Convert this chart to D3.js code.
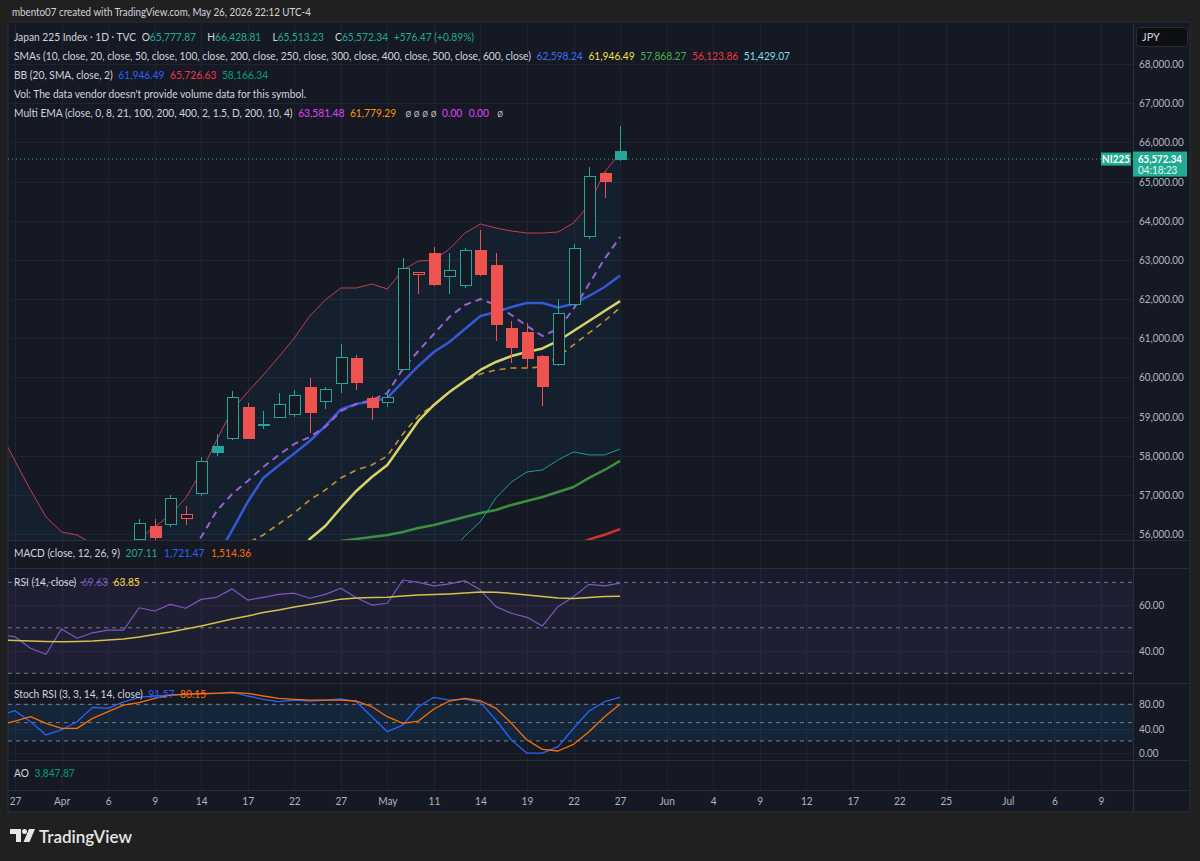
<!DOCTYPE html>
<html>
<head>
<meta charset="utf-8">
<script src="https://cdn.jsdelivr.net/npm/d3@7"></script>
<style>
body{margin:0;background:#202020;}
svg text{font-family:Lato,"Liberation Sans",sans-serif;}
</style>
</head>
<body>
<svg id="chart" width="1200" height="861"></svg>
<script>
// trading days shown (Japanese holidays skipped), first one sits just left of the frame
var days = ["Mar 26","Mar 27","Mar 30","Mar 31","Apr 1","Apr 2","Apr 3","Apr 6","Apr 7","Apr 8","Apr 9","Apr 10",
  "Apr 13","Apr 14","Apr 15","Apr 16","Apr 17","Apr 20","Apr 21","Apr 22","Apr 23","Apr 24","Apr 27","Apr 28",
  "Apr 30","May 1","May 7","May 8","May 11","May 12","May 13","May 14","May 15","May 18","May 19","May 20",
  "May 21","May 22","May 25","May 26","May 27"];

var _ = null;
var open = [_,_,_,_,_,_,_,_,_, 55850,56180,56231,56384,57022,58222,58426,59218,58770,58980,59047,59729,59371,59830,
  60487,59448,59345,60206,62631,63167,62570,62340,63240,62843,61252,61150,60527,60316,61865,63591,65192,65777.87];
var high = [_,_,_,_,_,_,_,_,_, 56380,56376,56997,56723,57959,58554,59652,59353,59149,59593,59677,59991,59762,60852,
  60571,59524,59660,63040,62700,63336,63183,63311,63762,63183,61447,61381,60560,61993,63405,65363,65250,66428.81];
var low = [_,_,_,_,_,_,_,_,_, 55700,55650,56180,56231,56971,57992,58401,58430,58674,58960,58980,58587,59200,59593,
  59677,58911,59251,60180,62128,62332,62128,62289,62600,60936,60359,60231,59268,60290,61804,63525,64571,65513.23];
var close = [_,_,_,_,_,_,_,_,_, 56280,55900,56895,56486,57839,58077,59481,58434,58790,59312,59542,59098,59695,60512,
  59864,59236,59481,62784,62682,62358,62715,63244,62613,61355,60767,60487,59762,61635,63295,65123,64996,65572.34];

var sma10 = [_,_,_,_,_,_,_,_,_,_,_,_,_,_, 55400,56100,56818,57431,57750,58056,58375,58758,59180,59320,59384,59473,
  59881,60290,60647,60902,61235,61567,61669,61796,61898,61898,61783,61873,62077,62307,62598.24];
var sma20 = [_,_,_,_,_,_,_,_,_,_,_,_,_,_,_,_,_,_,_, 55400,55873,56205,56665,57099,57456,57763,58324,58886,59294,59626,
  59907,60188,60392,60545,60647,60737,60928,61184,61439,61694,61946.49];
var sma50 = [_,_,_,_,_,_,_,_,_,_,_,_,_,_,_,_,_,_,_,_,_, 55750,55822,55873,55924,55975,56052,56154,56231,56333,56435,
  56537,56614,56742,56844,56946,57073,57201,57431,57635,57868.27];
var sma100 = [_,_,_,_,_,_,_,_,_,_,_,_,_,_,_,_,_,_,_,_,_,_,_,_,_,_,_,_,_,_,_,_,_,_,_,_,_, 55700,55860,55982,56123.86];
var bbUpper = [58630,57865,57124,56435,56052,55975,55750,55600,55650,55873,56180,56486,56920,57584,58401,59167,59626,
  60060,60520,61005,61566,61975,62281,62281,62383,62256,62741,62971,62996,63277,63685,63915,63813,63736,63685,
  63685,63711,63941,64400,65243,65726.63];
var bbLower = [_,_,_,_,_,_,_,_,_,_,_,_,_,_,_,_,_,_,_,_,_,_,_,_,_,_,_,_,_, 55500,55950,56315,56920,57328,57584,57635,
  57890,58095,58018,58018,58166.34];
var emaFast = [_,_,_,_,_,_,_,_,_,_,_,_, 55400,55924,56588,57022,57354,57712,58018,58299,58477,58733,59141,59320,59422,
  59601,60213,60673,61107,61541,61847,62000,61847,61592,61311,61056,61235,61745,62383,63022,63581.48];
var emaSlow = [_,_,_,_,_,_,_,_,_,_,_,_,_,_,_, 55500,55771,55975,56256,56537,56869,57124,57431,57635,57763,57992,58554,
  59014,59294,59626,59907,60086,60188,60239,60239,60265,60520,60826,61133,61439,61779.29];

var rsi = [46.8,46.1,41.0,38.4,49.5,45.4,47.8,49.0,49.0,58.8,57.4,60.3,58.6,62.5,63.4,67.1,62.2,63.4,64.7,65.2,63.0,
  64.7,67.4,63.2,60.0,60.8,71.0,70.0,68.4,69.3,70.7,66.6,59.3,56.4,54.6,50.8,59.3,63.7,69.1,68.4,69.63];
var rsiMa = [44.6,44.4,44.2,44.0,43.9,44.0,44.2,44.6,45.1,46.0,47.1,48.2,49.5,50.8,52.3,53.9,55.2,56.7,57.8,59.1,60.2,
  61.3,62.6,63.1,63.3,63.4,64.0,64.4,64.6,64.9,65.3,65.7,65.6,65.1,64.4,63.8,63.1,62.9,63.3,63.8,63.85];
var stochK = [62,69.5,51.5,29.8,38,51.5,75,73.4,84,91.4,93.6,95.2,96.4,98,98,100,93.6,88.2,84.3,87,85.4,87,88.7,84.3,
  59.7,35.2,46.1,76.1,91.5,87,88.7,83.3,54.3,21.6,0,0,10.6,40.7,69,84.3,91.57];
var stochD = [46,52.6,59.7,48.9,40.7,40.7,57,67.9,78.8,82.6,89.8,95.2,96.8,97.3,98,99,98,93.6,89.8,88.2,87,87,87,85.4,
  76.1,59.7,48.9,52.6,72.3,85.4,89.8,85.9,73.5,48.9,21.6,6.3,3.6,14.5,35.2,59.7,80.15];

var priceTicks = [56000,57000,58000,59000,60000,61000,62000,63000,64000,65000,66000,67000,68000];
var rsiTicks = [40,60];
var stochTicks = [0,40,80];
// x-axis labels, placed by trading-day number counted from Mar 27
var tickBars = [0,3,6,9,12,15,18,21,24,27,30,33,36,39,42,45,48,51,54,57,60,64,67,70];
var tickLabels = ["27","Apr","6","9","14","17","22","27","May","11","14","19","22","27","Jun","4","9","12","17","22","25","Jul","6","9"];

var W = 1200, H = 861;
var left = 8, plotRight = 1133, frameRight = 1190;
var top0 = 22, mainBottom = 540, macdBottom = 568, rsiBottom = 683, stochBottom = 760, aoBottom = 790, axisBottom = 812;
var bg = "#151924", gridColor = "#1f2431", sepColor = "#2a2e39", textColor = "#d1d4dc", axisText = "#b2b5be";
var upColor = "#26a69a", downColor = "#ef5350";
var squeeze = 0.93; // TradingView's UI font runs narrower than Lato

var svg = d3.select("#chart");
var x = d3.scaleLinear().domain([0, 70]).range([15, 1101]);
var y = d3.scaleLinear().domain([56000, 68000]).range([534, 64]);
var yRsi = d3.scaleLinear().domain([30, 70]).range([673.3, 582.3]);
var yStoch = d3.scaleLinear().domain([0, 100]).range([753.2, 692.1]);
var bx = function(d, k){ return x(k - 1); };

svg.append("rect").attr("width", W).attr("height", H).attr("fill", "#202020");
svg.append("rect").attr("x", left).attr("y", top0).attr("width", frameRight - left).attr("height", axisBottom - top0)
  .attr("fill", bg).attr("stroke", sepColor);

svg.append("text").attr("transform", "translate(12,16) scale(0.89,1)").attr("font-size", "11px").attr("fill", textColor)
  .text("mbento07 created with TradingView.com, May 26, 2026 22:12 UTC-4");

// clip areas for each pane
var defs = svg.append("defs");
function clip(id, y0, y1){
  defs.append("clipPath").attr("id", id).append("rect")
    .attr("x", left).attr("y", y0).attr("width", plotRight - left).attr("height", y1 - y0);
  return "url(#" + id + ")";
}
var mainClip = clip("cMain", top0, mainBottom);
var rsiClip = clip("cRsi", macdBottom, rsiBottom);
var stochClip = clip("cStoch", rsiBottom, stochBottom);

// grid
var grid = svg.append("g").attr("stroke", gridColor).attr("stroke-width", 1).attr("shape-rendering", "crispEdges");
grid.selectAll(".vg").data(tickBars.filter(function(b){ return x(b) < plotRight; })).enter().append("line")
  .attr("x1", function(d){ return Math.round(x(d)) + 0.5; }).attr("x2", function(d){ return Math.round(x(d)) + 0.5; })
  .attr("y1", top0).attr("y2", aoBottom);
grid.selectAll(".hg").data(priceTicks).enter().append("line")
  .attr("x1", left).attr("x2", plotRight).attr("y1", function(d){ return Math.round(y(d)) + 0.5; })
  .attr("y2", function(d){ return Math.round(y(d)) + 0.5; });
grid.selectAll(".hr").data(rsiTicks).enter().append("line")
  .attr("x1", left).attr("x2", plotRight).attr("y1", function(d){ return Math.round(yRsi(d)) + 0.5; })
  .attr("y2", function(d){ return Math.round(yRsi(d)) + 0.5; });
grid.selectAll(".hs").data(stochTicks).enter().append("line")
  .attr("x1", left).attr("x2", plotRight).attr("y1", function(d){ return Math.round(yStoch(d)) + 0.5; })
  .attr("y2", function(d){ return Math.round(yStoch(d)) + 0.5; });

// main pane
var main = svg.append("g").attr("clip-path", mainClip);
var bbArea = d3.area().defined(function(d){ return d != null; }).x(bx)
  .y1(function(d){ return y(d); })
  .y0(function(d, k){ return bbLower[k] != null ? y(bbLower[k]) : mainBottom + 10; });
main.append("path").datum(bbUpper).attr("d", bbArea).attr("fill", "rgba(33,150,243,0.06)");

function line(yS){ return d3.line().defined(function(d){ return d != null; }).x(bx).y(function(d){ return yS(d); }); }
function addLine(g, data, yS, color, width, dash){
  g.append("path").datum(data).attr("d", line(yS)).attr("fill", "none").attr("stroke", color)
    .attr("stroke-width", width).attr("stroke-dasharray", dash || null).attr("stroke-linejoin", "round");
}
addLine(main, bbUpper, y, "#c63d4f", 1);
addLine(main, bbLower, y, "#1b9e8c", 1);
addLine(main, sma100, y, "#d32f2f", 2.5);
addLine(main, sma50, y, "#3e8e41", 2.5);
addLine(main, emaSlow, y, "#c8902c", 1.6, "6,5");
addLine(main, sma20, y, "#d8d26a", 2.5);
addLine(main, sma10, y, "#3558d6", 2.5);
addLine(main, emaFast, y, "#9b5fd6", 2, "7,5");

// hollow candles: filled when close < open, colour from previous close
var candles = days.map(function(d, k){
  return {bar: k - 1, o: open[k], h: high[k], l: low[k], c: close[k], pc: k > 0 ? close[k - 1] : null};
}).filter(function(d){ return d.o != null; });
candles.forEach(function(d){
  var ref = d.pc != null ? d.pc : d.o;
  d.col = d.c >= ref ? upColor : downColor;
  d.filled = d.c < d.o;
});
var cg = main.append("g").attr("shape-rendering", "crispEdges");
cg.selectAll(".wick").data(candles).enter().append("line")
  .attr("x1", function(d){ return Math.round(x(d.bar)) + 0.5; }).attr("x2", function(d){ return Math.round(x(d.bar)) + 0.5; })
  .attr("y1", function(d){ return y(d.h); }).attr("y2", function(d){ return y(d.l); })
  .attr("stroke", function(d){ return d.col; });
cg.selectAll(".body").data(candles).enter().append("rect")
  .attr("x", function(d){ return Math.round(x(d.bar)) - 5 + 0.5; }).attr("width", 11)
  .attr("y", function(d){ return y(Math.max(d.o, d.c)); })
  .attr("height", function(d){ return Math.max(1, Math.abs(y(d.o) - y(d.c))); })
  .attr("fill", function(d){ return d.filled ? d.col : bg; })
  .attr("stroke", function(d){ return d.col; });

var last = close[close.length - 1];
svg.append("line").attr("x1", left).attr("x2", plotRight).attr("y1", y(last)).attr("y2", y(last))
  .attr("stroke", "#22ab94").attr("stroke-dasharray", "1,3");

// RSI pane
var rsiG = svg.append("g").attr("clip-path", rsiClip);
rsiG.append("rect").attr("x", left).attr("width", plotRight - left).attr("y", yRsi(70)).attr("height", yRsi(30) - yRsi(70))
  .attr("fill", "rgba(126,87,194,0.1)");
rsiG.append("rect").attr("x", left).attr("width", plotRight - left).attr("y", macdBottom).attr("height", yRsi(70) - macdBottom)
  .attr("fill", "rgba(126,87,194,0.05)");
rsiG.selectAll(".band").data([70, 50, 30]).enter().append("line")
  .attr("x1", left).attr("x2", plotRight).attr("y1", function(d){ return yRsi(d); }).attr("y2", function(d){ return yRsi(d); })
  .attr("stroke", "#787b86").attr("stroke-dasharray", "4,4");
addLine(rsiG, rsi, yRsi, "#7e57c2", 1.2);
addLine(rsiG, rsiMa, yRsi, "#d4c04a", 1.5);

// Stoch RSI pane
var stG = svg.append("g").attr("clip-path", stochClip);
stG.append("rect").attr("x", left).attr("width", plotRight - left).attr("y", yStoch(80)).attr("height", yStoch(20) - yStoch(80))
  .attr("fill", "rgba(33,150,243,0.1)");
stG.selectAll(".band").data([80, 50, 20]).enter().append("line")
  .attr("x1", left).attr("x2", plotRight).attr("y1", function(d){ return yStoch(d); }).attr("y2", function(d){ return yStoch(d); })
  .attr("stroke", "#787b86").attr("stroke-dasharray", "4,4");
addLine(stG, stochK, yStoch, "#2962ff", 1.3);
addLine(stG, stochD, yStoch, "#ff6d00", 1.3);

// pane separators
var sep = svg.append("g").attr("stroke", sepColor).attr("shape-rendering", "crispEdges");
[mainBottom, macdBottom, rsiBottom, stochBottom, aoBottom].forEach(function(v){
  sep.append("line").attr("x1", left).attr("x2", frameRight).attr("y1", v + 0.5).attr("y2", v + 0.5);
});
sep.append("line").attr("x1", plotRight + 0.5).attr("x2", plotRight + 0.5).attr("y1", top0).attr("y2", axisBottom);

// axes
function rightAxis(scale, ticks, fmt){
  var g = svg.append("g").attr("transform", "translate(" + (plotRight + 6) + ",0)")
    .call(d3.axisRight(scale).tickValues(ticks).tickSize(0).tickPadding(0).tickFormat(fmt));
  g.select(".domain").remove();
  g.selectAll("text").attr("fill", axisText).attr("font-size", "11px").attr("font-family", "Lato")
    .attr("transform", "scale(0.9,1)");
  return g;
}
rightAxis(y, priceTicks, d3.format(",.2f"));
rightAxis(yRsi, rsiTicks, d3.format(".2f"));
rightAxis(yStoch, stochTicks, d3.format(".2f"));

var xg = svg.append("g").attr("transform", "translate(0," + (aoBottom + 7) + ")")
  .call(d3.axisBottom(x).tickValues(tickBars).tickSize(0).tickPadding(0)
    .tickFormat(function(d, i){ return tickLabels[i]; }));
xg.select(".domain").remove();
xg.selectAll("text").attr("fill", axisText).attr("font-size", "11px").attr("font-family", "Lato")
  .attr("transform", "scale(0.92,1)");

// currency button and last price labels
svg.append("rect").attr("x", 1136.5).attr("y", 27.5).attr("width", 51).attr("height", 19).attr("rx", 3)
  .attr("fill", "#0e0f13").attr("stroke", "#2a2e39");
svg.append("text").attr("x", 1142).attr("y", 41).attr("font-size", "11px").attr("fill", textColor).text("JPY");
svg.append("rect").attr("x", 1101).attr("y", y(last) - 6.5).attr("width", 30).attr("height", 13).attr("fill", "#22ab94");
svg.append("text").attr("transform", "translate(1116," + (y(last) + 4) + ") scale(0.9,1)").attr("text-anchor", "middle")
  .attr("font-size", "11px").attr("font-weight", "bold").attr("fill", "#fff").text("NI225");
svg.append("rect").attr("x", 1133).attr("y", y(last) - 7.5).attr("width", 54).attr("height", 25).attr("fill", "#22ab94");
svg.append("text").attr("transform", "translate(1138," + (y(last) + 3.5) + ") scale(0.88,1)").attr("font-size", "11px")
  .attr("font-weight", "bold").attr("fill", "#fff").text(d3.format(",.2f")(last));
svg.append("text").attr("transform", "translate(1138," + (y(last) + 14.5) + ") scale(0.9,1)").attr("font-size", "11px")
  .attr("fill", "#e8f6f3").text("04:18:23");

// legends
function legend(x0, yb, parts){
  var t = svg.append("text").attr("transform", "translate(" + x0 + "," + yb + ") scale(" + squeeze + ",1)")
    .attr("font-size", "11px");
  parts.forEach(function(p){
    t.append("tspan").attr("dx", p[2] || 0).attr("fill", p[1] || textColor).text(p[0]);
  });
}
var teal = "#22ab94";
legend(14, 41, [["Japan 225 Index · 1D · TVC"], ["O", textColor, 6], ["65,777.87", teal], ["H", textColor, 12], ["66,428.81", teal],
  ["L", textColor, 12], ["65,513.23", teal], ["C", textColor, 12], ["65,572.34", teal], ["+576.47 (+0.89%)", teal, 6]]);
legend(14, 60, [["SMAs (10, close, 20, close, 50, close, 100, close, 200, close, 250, close, 300, close, 400, close, 500, close, 600, close)"],
  ["62,598.24", "#3d6ef5", 6], ["61,946.49", "#f5e04a", 6], ["57,868.27", "#4caf50", 6], ["56,123.86", "#f23645", 6], ["51,429.07", "#80deea", 6]]);
legend(14, 79, [["BB (20, SMA, close, 2)"], ["61,946.49", "#2962ff", 6], ["65,726.63", "#f23645", 6], ["58,166.34", "#089981", 6]]);
legend(14, 98, [["Vol: The data vendor doesn't provide volume data for this symbol."]]);
legend(14, 117, [["Multi EMA (close, 0, 8, 21, 100, 200, 400, 2, 1.5, D, 200, 10, 4)"], ["63,581.48", "#e040fb", 6],
  ["61,779.29", "#ff9800", 6], ["ø  ø  ø  ø", "#b2b5be", 10], ["0.00", "#e040fb", 6], ["0.00", "#e040fb", 7], ["ø", "#b2b5be", 9]]);
legend(14, 557, [["MACD (close, 12, 26, 9)"], ["207.11", "#26a69a", 6], ["1,721.47", "#2962ff", 7], ["1,514.36", "#ff6d00", 7]]);
legend(14, 586, [["RSI (14, close)"], ["69.63", "#7e57c2", 6], ["63.85", "#fdd835", 6]]);
legend(14, 698, [["Stoch RSI (3, 3, 14, 14, close)"], ["91.57", "#2962ff", 6], ["80.15", "#ff6d00", 6]]);
legend(14, 777, [["AO"], ["3,847.87", "#089981", 6]]);

// TradingView logo
var logo = svg.append("g").attr("fill", "#e6e6e6");
logo.append("path").attr("d", "M10 829 h11 v13 h-5 v-8 h-6 z");
logo.append("circle").attr("cx", 24.5).attr("cy", 831.5).attr("r", 2.5);
logo.append("path").attr("d", "M29 829 h6 l-5.5 13 h-6 z");
svg.append("text").attr("x", 39).attr("y", 843).attr("font-size", "17px").attr("font-weight", "600")
  .attr("fill", "#e6e6e6").text("TradingView");
</script>
</body>
</html>
